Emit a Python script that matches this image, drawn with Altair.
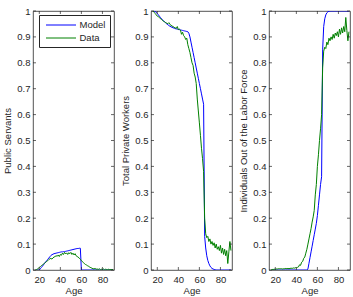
import altair as alt
import pandas as pd

FONT = "Liberation Sans"
TXT = "#262626"
BLUE = "#0000ff"
GREEN = "#008000"

x_ticks = [20, 40, 60, 80]
y_ticks = [0, 0.1, 0.2, 0.3, 0.4, 0.5, 0.6, 0.7, 0.8, 0.9, 1]
series_names = ["Model", "Data"]
y_titles = ["Public Servants", "Total Private Workers", "Individuals Out of the Labor Force"]

model_ages = list(range(17, 91))
data_ages = list(range(16, 91))

model_public = [
    0, 0, 0, 0,                                                   # 17-20
    .005, .01, .015, .02, .026, .031, .036, .041, .046, .051,     # 21-30
    .056, .059, .061, .063, .064, .065, .066, .067, .068, .069,   # 31-40
    .07, .07, .071, .071, .072, .073, .074, .075, .076, .077,     # 41-50
    .078, .079, .08, .081, .082, .083, .083, .084, .084,          # 51-59
    0, 0, 0, 0, 0, 0, 0, 0, 0, 0, 0,                              # 60-70
    0, 0, 0, 0, 0, 0, 0, 0, 0, 0,                                 # 71-80
    0, 0, 0, 0, 0, 0, 0, 0, 0, 0,                                 # 81-90
]
model_private = [
    1.0, .998, .995, .99,                                         # 17-20
    .985, .98, .975, .97, .966, .962, .958, .954, .95, .947,      # 21-30
    .944, .941, .939, .937, .935, .934, .932, .931, .93, .929,    # 31-40
    .928, .927, .926, .925, .924, .923, .922, .921, .92, .914,    # 41-50
    .9, .88, .86, .84, .82, .80, .78, .76, .74, .72,              # 51-60
    .70, .68, .66, .64, .13, .085, .055, .037, .025, .016,        # 61-70
    .01, .006, .004, .002, .001, 0, 0, 0, 0, 0,                   # 71-80
    0, 0, 0, 0, 0, 0, 0, 0, 0, 0,                                 # 81-90
]
model_out = [
    0, 0, 0, 0,                                                   # 17-20
    0, 0, 0, 0, 0, 0, 0, 0, 0, 0,                                 # 21-30
    0, 0, 0, 0, 0, 0, 0, 0, 0, 0,                                 # 31-40
    0, 0, 0, 0, 0, 0, 0, 0, 0, 0,                                 # 41-50
    .004, .026, .048, .07, .092, .114, .136, .158, .18, .21,      # 51-60
    .25, .29, .33, .36, .85, .94, .97, .985, .993, .997,          # 61-70
    .999, 1, 1, 1, 1, 1, 1, 1, 1, 1,                              # 71-80
    1, 1, 1, 1, 1, 1, 1, 1, 1, 1,                                 # 81-90
]

data_public = [
    0, 0, .003, .006, .01,                                        # 16-20
    .013, .017, .02, .023, .026, .03, .033, .036, .04, .043,      # 21-30
    .045, .042, .047, .05, .052, .055, .053, .058, .052, .06,     # 31-40
    .057, .065, .06, .068, .062, .066, .06, .067, .063, .068,     # 41-50
    .06, .065, .058, .063, .055, .052, .05, .045, .042, .036,     # 51-60
    .033, .028, .024, .021, .019, .016, .014, .011, .009, .007,   # 61-70
    .005, .004, .006, .003, .004, .002, .005, .001, .003, .002,   # 71-80
    .004, .001, .003, .002, .001, .003, .001, .002, .001, .002,   # 81-90
]
data_private = [
    1.0, .995, .99, .985, .98,                                    # 16-20
    .978, .975, .97, .968, .963, .96, .958, .955, .953, .951,     # 21-30
    .955, .948, .945, .942, .94, .937, .935, .933, .94, .928,     # 31-40
    .93, .926, .91, .918, .905, .9, .89, .895, .87, .855,         # 41-50
    .84, .82, .8, .79, .76, .745, .72, .66, .614, .568,           # 51-60
    .52, .47, .43, .38, .2, .14, .125, .13, .11, .12,             # 61-70
    .1, .11, .095, .105, .085, .1, .08, .09, .075, .095,          # 71-80
    .065, .085, .06, .08, .055, .075, .025, .07, .11, .075,       # 81-90
]
data_out = [
    0, .002, .002, .003, .003,                                    # 16-20
    .004, .004, .005, .005, .005, .005, .004, .005, .005, .006,   # 21-30
    .005, .006, .005, .006, .007, .006, .008, .007, .009, .008,   # 31-40
    .01, .012, .02, .018, .03, .033, .045, .05, .065, .08,        # 41-50
    .1, .12, .14, .16, .185, .205, .23, .29, .33, .4,             # 51-60
    .445, .5, .545, .6, .78, .845, .86, .855, .88, .87,           # 61-70
    .895, .885, .9, .89, .91, .895, .915, .905, .92, .9,          # 71-80
    .93, .91, .935, .915, .94, .92, .975, .925, .885, .92,        # 81-90
]

W, H = 81, 259
TK = 3  # inner tick length


def panel(model_vals, data_vals, ytitle, show_legend):
    dm = pd.DataFrame({"Age": model_ages, "v": model_vals, "s": series_names[0]})
    dd = pd.DataFrame({"Age": data_ages, "v": data_vals, "s": series_names[1]})
    xt = pd.DataFrame({"Age": x_ticks})
    yt = pd.DataFrame({"v": y_ticks})

    x_enc = alt.X("Age:Q", scale=alt.Scale(domain=[14, 91], nice=False, zero=False),
                  axis=alt.Axis(values=x_ticks, title="Age"))
    y_enc = alt.Y("v:Q", scale=alt.Scale(domain=[0, 1], nice=False),
                  axis=alt.Axis(values=y_ticks, format="~g", title=ytitle))
    if show_legend:
        leg = alt.Legend(title=None, orient="top-right", offset=4,
                         strokeColor=TXT, fillColor="white", padding=4.5,
                         symbolType="M-3,0H3", symbolSize=100, symbolStrokeWidth=1,
                         symbolOffset=12, labelOffset=13,
                         labelFontSize=9.5, labelFont=FONT, labelColor=TXT,
                         rowPadding=3)
    else:
        leg = None
    c_enc = alt.Color("s:N", scale=alt.Scale(domain=series_names, range=[BLUE, GREEN]), legend=leg)

    lm = alt.Chart(dm).mark_line(strokeWidth=1, clip=True).encode(x=x_enc, y=y_enc, color=c_enc)
    ld = alt.Chart(dd).mark_line(strokeWidth=1, clip=True).encode(x=x_enc, y=y_enc, color=c_enc)
    tb = alt.Chart(xt).mark_rule(color=TXT, strokeWidth=0.7).encode(x=x_enc, y=alt.value(H), y2=alt.value(H - TK))
    tt = alt.Chart(xt).mark_rule(color=TXT, strokeWidth=0.7).encode(x=x_enc, y=alt.value(0), y2=alt.value(TK))
    tl = alt.Chart(yt).mark_rule(color=TXT, strokeWidth=0.7).encode(y=y_enc, x=alt.value(0), x2=alt.value(TK))
    tr = alt.Chart(yt).mark_rule(color=TXT, strokeWidth=0.7).encode(y=y_enc, x=alt.value(W), x2=alt.value(W - TK))
    return alt.layer(lm, ld, tb, tt, tl, tr).properties(width=W, height=H)


p1 = panel(model_public, data_public, y_titles[0], True)
p2 = panel(model_private, data_private, y_titles[1], False)
p3 = panel(model_out, data_out, y_titles[2], False)

chart = alt.hconcat(p1, p2, p3, spacing=37, bounds="flush").resolve_legend(
    color="independent"
).properties(
    padding={"left": 2, "top": 5, "right": 2, "bottom": 2},
    background="white",
).configure_view(
    stroke=TXT, strokeWidth=0.8
).configure_axis(
    labelFont=FONT, titleFont=FONT, labelFontSize=9.5, titleFontSize=9.5,
    labelColor=TXT, titleColor=TXT, titleFontWeight="normal",
    ticks=False, domain=False, grid=False,
).configure_axisX(
    labelPadding=4, titlePadding=2
).configure_axisY(
    labelPadding=3, titlePadding=4
)

chart.save("out.html", embed_options={"renderer": "svg", "actions": False})
